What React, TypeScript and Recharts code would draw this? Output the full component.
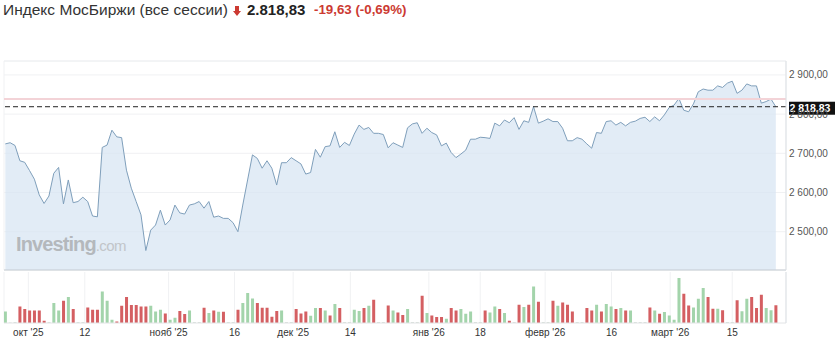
import React from "react";
import {
  ComposedChart,
  Area,
  Bar,
  Cell,
  XAxis,
  YAxis,
  CartesianGrid,
  ReferenceLine,
} from "recharts";

// ---------- data ----------
const TITLE = "Индекс МосБиржи (все сессии)";
const LAST_PRICE = 2818.83;
const PREV_CLOSE = 2838.46;
const CHANGE_TEXT = "-19,63 (-0,69%)";
const HEADLINE_PRICE = "2.818,83";

const PRICES = [
  2724, 2727, 2720, 2681, 2677, 2656, 2634, 2594, 2572, 2591,
  2649, 2664, 2571, 2632, 2574, 2577, 2588, 2577, 2540, 2538,
  2715, 2721, 2759, 2742, 2740, 2657, 2611, 2577, 2543, 2452,
  2504, 2517, 2555, 2517, 2530, 2568, 2548, 2545, 2568, 2571,
  2577, 2560, 2577, 2537, 2540, 2534, 2534, 2523, 2500, 2568,
  2632, 2696, 2687, 2662, 2681, 2662, 2619, 2676, 2676, 2689,
  2681, 2673, 2647, 2651, 2710, 2690, 2717, 2719, 2755, 2715,
  2728, 2720, 2749, 2772, 2761, 2766, 2751, 2751, 2748, 2714,
  2727, 2721, 2715, 2765, 2775, 2778, 2751, 2764, 2753, 2747,
  2719, 2726, 2702, 2689, 2698, 2708, 2736, 2736, 2741, 2740,
  2738, 2777, 2770, 2785, 2778, 2791, 2761, 2783, 2779, 2819,
  2777, 2782, 2788, 2781, 2781, 2764, 2732, 2732, 2740, 2736,
  2724, 2713, 2753, 2751, 2781, 2783, 2772, 2779, 2770, 2779,
  2782, 2789, 2792, 2781, 2793, 2783, 2798, 2817, 2823, 2840,
  2810, 2806, 2826, 2857, 2864, 2861, 2861, 2872, 2868, 2879,
  2884, 2853, 2861, 2877, 2872, 2872, 2828, 2832, 2838.46, 2818.83,
];

const VOLUMES = [
  11.6, 0.5, 1, 16.6, 14, 12.6, 12.6, 12.6, 2.3, 1,
  20, 12.6, 22.3, 26, 14, 1, 1, 15.6, 13.3, 13.3,
  31.6, 22.3, 3.3, 1.6, 17.3, 26, 18, 18, 16.6, 16.6,
  17.3, 11.6, 13.3, 9.6, 3.3, 5.3, 12, 9, 12.6, 1,
  1, 15.3, 10, 12.6, 11.3, 11.3, 1, 1, 13.3, 20,
  30, 24.6, 20, 15.3, 15.3, 6.3, 12, 12.6, 1, 1,
  14, 9.6, 11.6, 7.3, 15, 15, 12.6, 7.6, 19, 15,
  1, 1, 13.3, 12, 15, 17.3, 23.3, 1, 1, 17.6,
  12.6, 10.6, 8, 14, 1, 1, 27.3, 10, 7.6, 6,
  6, 4.3, 15, 12.6, 14, 9.3, 11.6, 1, 1, 12.6,
  10.6, 16.6, 14, 10, 2.3, 1, 18.3, 16, 18.3, 36.6,
  21.3, 1, 1, 22.3, 17.3, 20.6, 18.3, 11.6, 1, 1,
  15, 12.6, 18.3, 11.6, 19, 16.6, 14, 15, 12.6, 12.6,
  1, 1, 1, 15.6, 12.6, 9.3, 11, 7.6, 3.3, 45,
  29.3, 17.6, 15.6, 24.3, 35, 26, 14.3, 14.3, 12.7, 1,
  1, 22.7, 11.7, 24.3, 26, 15, 28.3, 15, 12.7, 17.7,
];

// 1 = up day, -1 = down day, 0 = weekend session
const DIRS = [
  1, 0, 0, -1, -1, -1, -1, -1, -1, 0,
  1, 1, -1, 1, -1, 0, 0, -1, -1, -1,
  1, 1, 1, -1, -1, -1, -1, -1, -1, -1,
  1, 1, 1, -1, 1, 1, -1, -1, 1, 0,
  0, -1, 1, -1, 1, -1, 0, 0, -1, 1,
  1, 1, -1, -1, -1, -1, -1, 1, 0, 0,
  -1, -1, -1, 1, 1, -1, 1, -1, 1, -1,
  0, 0, 1, 1, -1, 1, -1, 0, 0, -1,
  1, -1, -1, 1, 0, 0, -1, 1, -1, -1,
  -1, 1, -1, -1, 1, 1, 1, 0, 0, -1,
  1, 1, -1, 1, -1, 0, -1, 1, -1, 1,
  -1, 0, 0, -1, 1, -1, -1, -1, 0, 0,
  -1, -1, 1, -1, 1, 1, -1, 1, -1, 1,
  0, 0, 0, -1, 1, -1, 1, 1, 1, 1,
  -1, -1, 1, 1, 1, -1, -1, 1, -1, 0,
  0, -1, 1, 1, -1, -1, -1, 1, 1, -1,
];

const TICK_POS = [4.75, 16.4, 33.7, 47.3, 59.4, 71.2, 87.4, 98, 111.4, 125.1, 137.2, 150];
const TICK_LABELS = ["окт '25", "12", "нояб '25", "16", "дек '25", "14", "янв '26", "18", "февр '26", "16", "март '26", "15"];
const Y_TICKS = [2500, 2600, 2700, 2800, 2900];

const X_DOMAIN: [number, number] = [-0.27, 161.1];
const Y_DOMAIN: [number, number] = [2402.3, 2935.5];
const VOL_DOMAIN: [number, number] = [0, 51];

const data = PRICES.map((p, i) => ({ i, price: p, vol: VOLUMES[i], dir: DIRS[i] }));

// ---------- style ----------
const FONT = "'Liberation Sans', Arial, sans-serif";
const UP = "#a3d4ab";
const DOWN = "#d45f62";
const FLAT = "#d3ddd6";
const RED = "#cc3a32";

const fmt = (v: number) => {
  const [int, dec] = v.toFixed(2).split(".");
  return int.replace(/\B(?=(\d{3})+(?!\d))/g, "\u00a0") + "," + dec;
};

const xLabel = (v: number) => {
  const k = TICK_POS.indexOf(v);
  return k >= 0 ? TICK_LABELS[k] : "";
};

const PriceTag = (props: any) => {
  const vb = props.viewBox || {};
  const x = vb.x + vb.width + 3;
  const y = vb.y;
  return (
    <g>
      <rect x={x} y={y - 5} width={47} height={13} fill="#111" />
      <text
        x={x + 21}
        y={y + 5.5}
        textAnchor="middle"
        fill="#fff"
        fontSize={10.5}
        fontWeight="bold"
        fontFamily={FONT}
      >
        {fmt(LAST_PRICE)}
      </text>
    </g>
  );
};

export default function App() {
  return (
    <div
      style={{
        position: "absolute",
        left: 0,
        top: 0,
        width: 835,
        height: 340,
        background: "#fff",
        fontFamily: FONT,
        overflow: "hidden",
      }}
    >
      {/* header */}
      <div style={{ position: "absolute", left: 3, top: 2, fontSize: 15.5, lineHeight: 1, color: "#333", whiteSpace: "nowrap" }}>
        {TITLE}
      </div>
      <svg style={{ position: "absolute", left: 233, top: 6 }} width={8} height={10}>
        <polygon points="2,0 6,0 6,5 8,5 4,10 0,5 2,5" fill={RED} />
      </svg>
      <div style={{ position: "absolute", left: 247, top: 2.3, fontSize: 15, lineHeight: 1, fontWeight: "bold", color: "#222", whiteSpace: "nowrap" }}>
        {HEADLINE_PRICE}
      </div>
      <div style={{ position: "absolute", left: 314, top: 3, fontSize: 13.3, lineHeight: 1, fontWeight: "bold", color: RED, whiteSpace: "nowrap" }}>
        {CHANGE_TEXT}
      </div>

      {/* price panel */}
      <div style={{ position: "absolute", left: 0, top: 0 }}>
        <ComposedChart width={835} height={272} data={data} margin={{ top: 61, right: 0, bottom: 0, left: 4 }}>
          <CartesianGrid stroke="#f0f1f3" strokeWidth={1} />
          <XAxis
            type="number"
            dataKey="i"
            domain={X_DOMAIN}
            ticks={TICK_POS}
            interval={0}
            allowDataOverflow
            tick={false}
            tickLine={false}
            height={2}
            axisLine={{ stroke: "#c6ccd2" }}
          />
          <YAxis
            orientation="right"
            domain={Y_DOMAIN}
            ticks={Y_TICKS}
            allowDataOverflow
            width={49}
            tickLine={false}
            tickSize={0}
            tickMargin={3}
            tickFormatter={fmt}
            tick={{ fontSize: 10, fill: "#555", fontFamily: FONT }}
            axisLine={{ stroke: "#dde1e5" }}
          />
          <ReferenceLine y={Y_DOMAIN[1]} stroke="#eef0f2" ifOverflow="extendDomain" />
          <Area
            type="linear"
            dataKey="price"
            stroke="#7f9fbb"
            strokeWidth={1}
            fill="#d7e5f2"
            fillOpacity={0.72}
            isAnimationActive={false}
            dot={false}
            activeDot={false}
          />
          <ReferenceLine y={PREV_CLOSE} stroke="#f3d3d7" strokeWidth={2} />
          <ReferenceLine
            y={LAST_PRICE}
            stroke="#222"
            strokeDasharray="5 3"
            strokeWidth={1}
            label={PriceTag}
          />
        </ComposedChart>
      </div>

      {/* watermark */}
      <div style={{ position: "absolute", left: 16, top: 234, whiteSpace: "nowrap", lineHeight: 1, pointerEvents: "none" }}>
        <span style={{ fontSize: 20, fontWeight: "bold", color: "#b4b8bc", letterSpacing: -0.9 }}>Investing</span>
        <span style={{ fontSize: 15, color: "#c1c5c9", letterSpacing: -0.6 }}>.com</span>
      </div>

      {/* volume panel */}
      <div style={{ position: "absolute", left: 0, top: 270 }}>
        <ComposedChart width={835} height={70} data={data} margin={{ top: 2, right: 0, bottom: 0, left: 4 }}>
          <CartesianGrid stroke="#f0f1f3" horizontal={false} />
          <XAxis
            type="number"
            dataKey="i"
            domain={X_DOMAIN}
            ticks={TICK_POS}
            interval={0}
            allowDataOverflow
            height={17}
            tickLine={false}
            tickSize={0}
            tickMargin={6}
            tickFormatter={xLabel}
            tick={{ fontSize: 10, fill: "#333", fontFamily: FONT }}
            axisLine={{ stroke: "#e2e4e6" }}
          />
          <YAxis
            orientation="right"
            domain={VOL_DOMAIN}
            width={49}
            tick={false}
            tickLine={false}
            axisLine={{ stroke: "#dde1e5" }}
          />
          <Bar dataKey="vol" barSize={3} isAnimationActive={false}>
            {data.map((d) => (
              <Cell key={d.i} fill={d.dir > 0 ? UP : d.dir < 0 ? DOWN : FLAT} />
            ))}
          </Bar>
        </ComposedChart>
      </div>
    </div>
  );
}
